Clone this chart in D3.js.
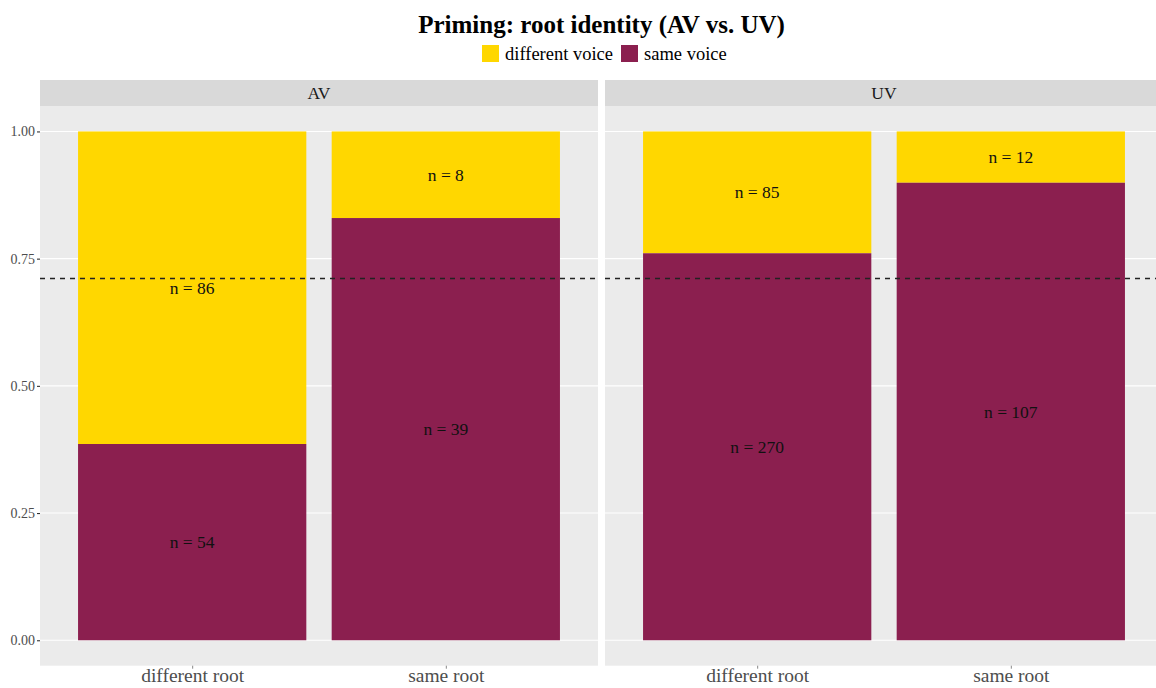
<!DOCTYPE html>
<html>
<head>
<meta charset="utf-8">
<script src="https://cdn.jsdelivr.net/npm/d3@7/dist/d3.min.js"></script>
<style>
  html, body { margin: 0; padding: 0; background: #fff; }
  svg { display: block; }
  text { font-family: "Liberation Serif", "DejaVu Serif", serif; }
</style>
</head>
<body>
<svg id="chart" width="1156" height="688"></svg>
<script>
// ---- data ----
const facets = ["AV", "UV"];
const categories = ["different root", "same root"];
const voices = ["different voice", "same voice"];
// counts per facet, per category: [different voice, same voice]
const countsAV = [[86, 54], [8, 39]];
const countsUV = [[85, 270], [12, 107]];
const yTicks = [0, 0.25, 0.5, 0.75, 1.0];
const colors = ["#FFD700", "#8B1F4F"];
const title = "Priming: root identity (AV vs. UV)";

const counts = { AV: countsAV, UV: countsUV };
const allCounts = [...countsAV, ...countsUV];
const totalSame = d3.sum(allCounts, d => d[1]);
const totalAll = d3.sum(allCounts, d => d[0] + d[1]);
const refLine = totalSame / totalAll;

const svg = d3.select("#chart");

const panelTop = 106, panelBottom = 665.7;
const panelW = 558;
const panelLefts = [40, 605];
const stripTop = 80;

const y = d3.scaleLinear().domain([-0.05, 1.05]).range([panelBottom, panelTop]);

// title
svg.append("text")
  .attr("x", (panelLefts[0] + panelLefts[1] + panelW) / 2)
  .attr("y", 33)
  .attr("text-anchor", "middle")
  .attr("font-size", 25)
  .attr("font-weight", "bold")
  .attr("fill", "#000")
  .text(title);

// legend
const legend = svg.append("g");
const legItems = [{ x: 482, tx: 505, c: colors[0], t: voices[0] }, { x: 621, tx: 644, c: colors[1], t: voices[1] }];
legItems.forEach(d => {
  legend.append("rect").attr("x", d.x).attr("y", 45).attr("width", 17).attr("height", 17).attr("fill", d.c);
  legend.append("text").attr("x", d.tx).attr("y", 60).attr("font-size", 18.5).attr("fill", "#000").text(d.t);
});

facets.forEach((f, fi) => {
  const left = panelLefts[fi];
  const g = svg.append("g");
  const x = d3.scalePoint().domain(categories).range([left + 0.6 / 2.2 * panelW, left + 1.6 / 2.2 * panelW]);
  const bw = 0.9 / 2.2 * panelW;

  // strip
  g.append("rect").attr("x", left).attr("y", stripTop).attr("width", panelW).attr("height", panelTop - stripTop).attr("fill", "#D9D9D9");
  g.append("text").attr("x", left + panelW / 2).attr("y", 99).attr("text-anchor", "middle")
    .attr("font-size", 17.5).attr("fill", "#1A1A1A").text(f);

  // panel background
  g.append("rect").attr("x", left).attr("y", panelTop).attr("width", panelW).attr("height", panelBottom - panelTop).attr("fill", "#EBEBEB");

  // gridlines (horizontal only)
  g.selectAll(".hg").data(yTicks).enter().append("line")
    .attr("x1", left).attr("x2", left + panelW)
    .attr("y1", d => y(d)).attr("y2", d => y(d))
    .attr("stroke", "#fff").attr("stroke-width", 1.1);

  // bars
  categories.forEach((c, ci) => {
    const [dv, sv] = counts[f][ci];
    const tot = dv + sv;
    const pSame = sv / tot;
    const segs = [
      { y0: pSame, y1: 1, col: colors[0], n: dv },
      { y0: 0, y1: pSame, col: colors[1], n: sv }
    ];
    segs.forEach(s => {
      g.append("rect")
        .attr("x", x(c) - bw / 2).attr("width", bw)
        .attr("y", y(s.y1)).attr("height", y(s.y0) - y(s.y1))
        .attr("fill", s.col);
    });
    segs.forEach(s => {
      g.append("text")
        .attr("x", x(c)).attr("y", y((s.y0 + s.y1) / 2))
        .attr("dy", "0.35em")
        .attr("text-anchor", "middle")
        .attr("font-size", 17.5)
        .attr("fill", "#111")
        .text("n = " + s.n);
    });
  });

  // reference line
  g.append("line")
    .attr("x1", left).attr("x2", left + panelW)
    .attr("y1", y(refLine)).attr("y2", y(refLine))
    .attr("stroke", "#222").attr("stroke-width", 1.6)
    .attr("stroke-dasharray", "5,5");

  // x axis
  const xAxis = d3.axisBottom(x).tickSize(3).tickPadding(0);
  const gx = g.append("g").attr("transform", `translate(0,${panelBottom})`).call(xAxis);
  gx.select(".domain").remove();
  gx.selectAll(".tick line").attr("stroke", "#888").attr("stroke-width", 1);
  gx.selectAll(".tick text").attr("font-size", 19.5).attr("fill", "#4D4D4D")
    .attr("font-family", "Liberation Serif, serif").attr("dy", null).attr("y", 16);

  // y axis (left facet only)
  if (fi === 0) {
    const yAxis = d3.axisLeft(y).tickValues(yTicks).tickFormat(d3.format(".2f")).tickSize(3).tickPadding(2);
    const gy = g.append("g").attr("transform", `translate(${left},0)`).call(yAxis);
    gy.select(".domain").remove();
    gy.selectAll(".tick line").attr("stroke", "#333").attr("stroke-width", 1.1);
    gy.selectAll(".tick text").attr("font-size", 14).attr("fill", "#4D4D4D")
      .attr("font-family", "Liberation Serif, serif");
  }
});
</script>
</body>
</html>
